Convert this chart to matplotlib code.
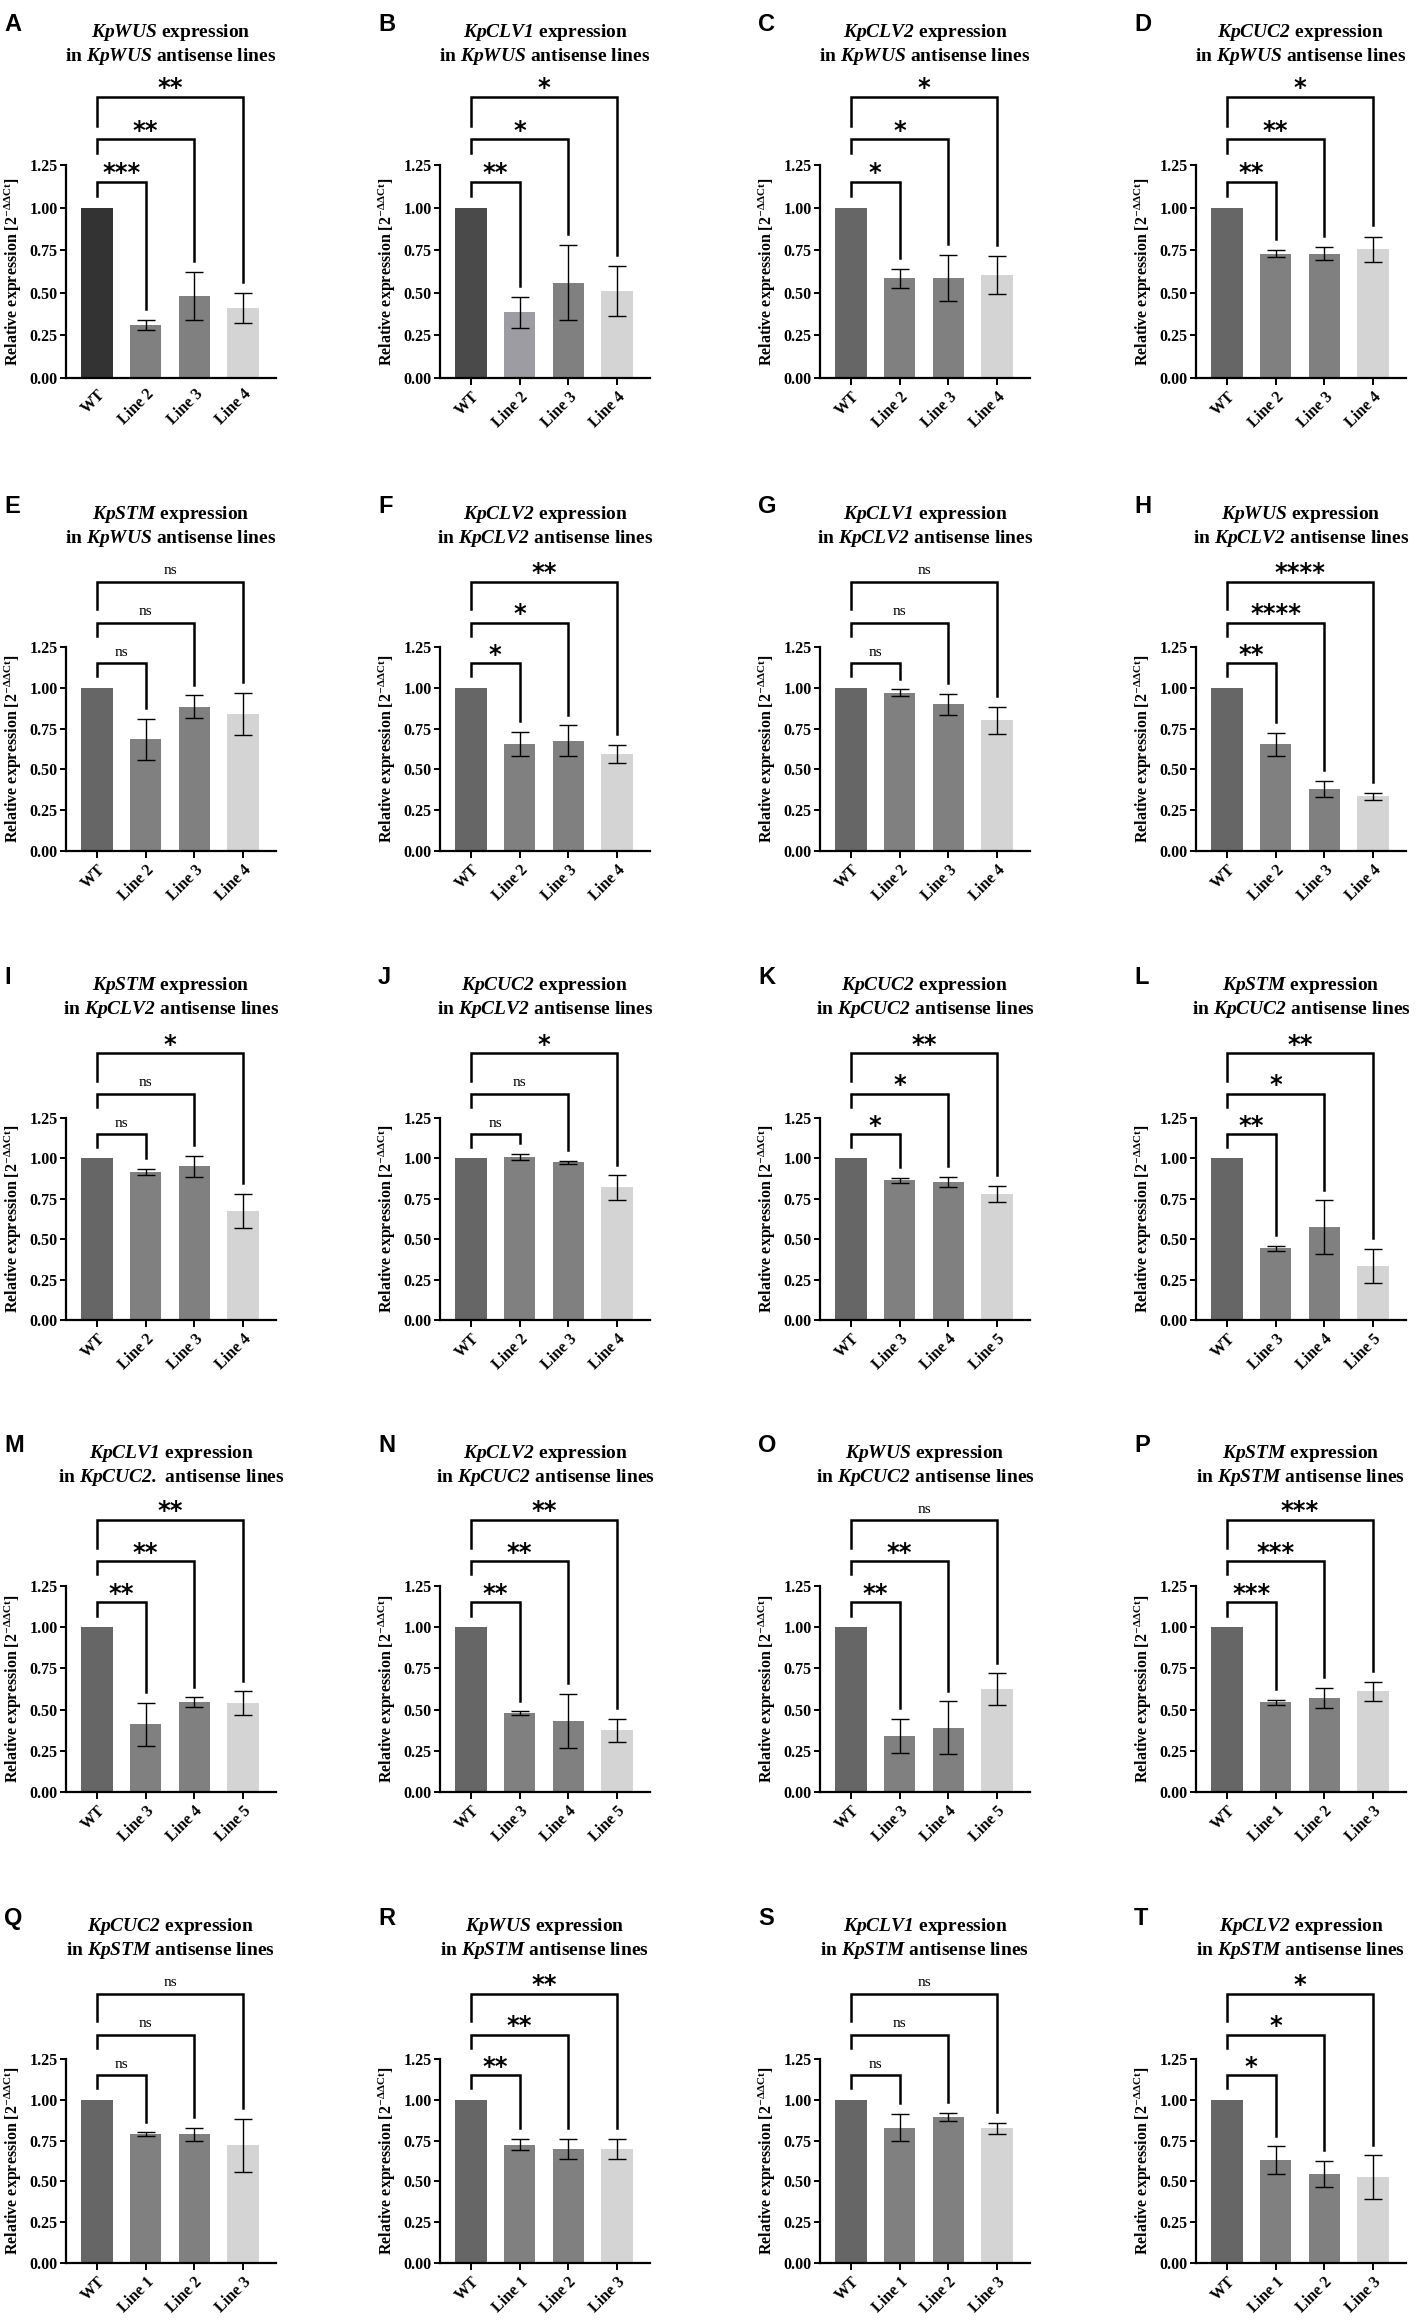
import matplotlib
matplotlib.use("Agg")
import matplotlib.pyplot as plt
from matplotlib.transforms import offset_copy
import numpy as np

plt.rcParams['font.family'] = ['Liberation Serif', 'DejaVu Serif']
plt.rcParams['font.weight'] = 'bold'
plt.rcParams['mathtext.fontset'] = 'custom'
# digits inside \mathit fall back to the "rm" font, so rm is bold italic too
plt.rcParams['mathtext.rm'] = 'Liberation Serif:italic:bold'
plt.rcParams['mathtext.bf'] = 'Liberation Serif:bold'
plt.rcParams['mathtext.it'] = 'Liberation Serif:italic:bold'

# panel data (WT first, then the three antisense lines)
letters = list("ABCDEFGHIJKLMNOPQRST")
genes = ["KpWUS", "KpCLV1", "KpCLV2", "KpCUC2",
         "KpSTM", "KpCLV2", "KpCLV1", "KpWUS",
         "KpSTM", "KpCUC2", "KpCUC2", "KpSTM",
         "KpCLV1", "KpCLV2", "KpWUS", "KpSTM",
         "KpCUC2", "KpWUS", "KpCLV1", "KpCLV2"]
backgrounds = ["KpWUS"] * 5 + ["KpCLV2"] * 5 + ["KpCUC2"] * 2 + \
              ["KpCUC2.", "KpCUC2", "KpCUC2"] + ["KpSTM"] * 5

labels_a = ["WT", "Line 2", "Line 3", "Line 4"]
labels_k = ["WT", "Line 3", "Line 4", "Line 5"]
labels_p = ["WT", "Line 1", "Line 2", "Line 3"]
xlabels = [labels_a] * 10 + [labels_k] * 5 + [labels_p] * 5

means = [
    [1.0, 0.31, 0.48, 0.41],
    [1.0, 0.385, 0.56, 0.51],
    [1.0, 0.585, 0.585, 0.605],
    [1.0, 0.73, 0.73, 0.755],
    [1.0, 0.685, 0.885, 0.84],
    [1.0, 0.655, 0.675, 0.595],
    [1.0, 0.97, 0.90, 0.80],
    [1.0, 0.655, 0.38, 0.335],
    [1.0, 0.915, 0.95, 0.675],
    [1.0, 1.01, 0.975, 0.82],
    [1.0, 0.865, 0.855, 0.78],
    [1.0, 0.445, 0.575, 0.335],
    [1.0, 0.41, 0.545, 0.54],
    [1.0, 0.48, 0.43, 0.375],
    [1.0, 0.34, 0.39, 0.625],
    [1.0, 0.545, 0.57, 0.61],
    [1.0, 0.79, 0.79, 0.72],
    [1.0, 0.725, 0.70, 0.70],
    [1.0, 0.83, 0.895, 0.825],
    [1.0, 0.63, 0.545, 0.525],
]
errors = [
    [0, 0.03, 0.14, 0.09],
    [0, 0.09, 0.22, 0.145],
    [0, 0.055, 0.135, 0.11],
    [0, 0.02, 0.04, 0.075],
    [0, 0.125, 0.07, 0.13],
    [0, 0.075, 0.095, 0.055],
    [0, 0.02, 0.065, 0.085],
    [0, 0.07, 0.05, 0.02],
    [0, 0.02, 0.065, 0.105],
    [0, 0.02, 0.01, 0.075],
    [0, 0.015, 0.03, 0.05],
    [0, 0.015, 0.165, 0.105],
    [0, 0.13, 0.03, 0.07],
    [0, 0.01, 0.165, 0.07],
    [0, 0.105, 0.16, 0.095],
    [0, 0.015, 0.06, 0.06],
    [0, 0.01, 0.04, 0.165],
    [0, 0.035, 0.06, 0.06],
    [0, 0.085, 0.025, 0.035],
    [0, 0.085, 0.08, 0.135],
]
signif = [
    ["***", "**", "**"], ["**", "*", "*"], ["*", "*", "*"], ["**", "**", "*"],
    ["ns", "ns", "ns"], ["*", "*", "**"], ["ns", "ns", "ns"], ["**", "****", "****"],
    ["ns", "ns", "*"], ["ns", "ns", "*"], ["*", "*", "**"], ["**", "*", "**"],
    ["**", "**", "**"], ["**", "**", "**"], ["**", "**", "ns"], ["***", "***", "***"],
    ["ns", "ns", "ns"], ["**", "**", "**"], ["ns", "ns", "ns"], ["*", "*", "*"],
]

# styles
wt_colors = ["#333333", "#4a4a4a"] + ["#666666"] * 18
line_colors = ["#808080", "#808080", "#d4d4d4"]
bracket_y = [1.15, 1.40, 1.65]
leg_bottom = [1.07, 1.32, 1.48]

W, H = 1418, 2320
col_left = [66, 440, 820, 1196]
row_top = [165, 647, 1118, 1586, 2059]
row_h = [213, 204, 202, 206, 204]
ax_w = 210

fig = plt.figure(figsize=(W / 100, H / 100), dpi=100)

for k in range(20):
    r, c = divmod(k, 4)
    rect = [col_left[c] / W, (H - row_top[r] - row_h[r]) / H, ax_w / W, row_h[r] / H]
    ax = fig.add_axes(rect)
    x = np.arange(4)
    m = np.array(means[k])
    e = np.array(errors[k])
    colors = [wt_colors[k]] + list(line_colors)
    if k == 1:
        colors[1] = "#9d9ca3"
    ax.bar(x, m, width=0.65, color=colors)
    ax.errorbar(x[1:], m[1:], yerr=e[1:], fmt='none', ecolor='black',
                elinewidth=1.0, capsize=6.8, capthick=1.0)

    # significance brackets
    for i in range(3):
        x2 = i + 1
        top = m[x2] + e[x2] + 0.065
        ax.plot([0, 0, x2, x2], [leg_bottom[i], bracket_y[i], bracket_y[i], top],
                color='black', lw=1.8, clip_on=False, solid_joinstyle='miter')
        s = signif[k][i]
        if s == "ns":
            ax.text(x2 / 2, bracket_y[i] + 0.045, s, ha='center', va='baseline',
                    fontsize=11, fontweight='normal', clip_on=False)
        else:
            ax.text(x2 / 2, bracket_y[i] + 0.01, s, ha='center', va='baseline',
                    fontsize=17.5, fontweight='bold', family='DejaVu Sans', clip_on=False)

    ax.set_xlim(-0.63, 3.67)
    ax.set_ylim(0, 1.25)
    ax.set_yticks([0, 0.25, 0.5, 0.75, 1.0, 1.25])
    ax.set_yticklabels(["%.2f" % v for v in [0, 0.25, 0.5, 0.75, 1.0, 1.25]], fontsize=11.5)
    ax.set_xticks(x)
    ax.set_xticklabels(xlabels[k], rotation=45, ha='right', rotation_mode='anchor',
                       fontsize=11.5)
    for sp in ['top', 'right']:
        ax.spines[sp].set_visible(False)
    for sp in ['left', 'bottom']:
        ax.spines[sp].set_linewidth(1.6)
    ax.tick_params(axis='y', width=1.4, length=4, pad=2)
    ax.tick_params(axis='x', width=1.4, length=5, pad=3)
    if k == 0:
        ax.tick_params(axis='x', length=0, pad=6)
    ax.set_ylabel(r"Relative expression [$\mathbf{2}^{-\mathbf{\Delta\Delta Ct}}$]",
                  fontsize=11.5, fontweight='bold', labelpad=4)

    # titles and panel letters
    t1 = offset_copy(ax.transAxes, fig=fig, x=0, y=128, units='dots')
    t2 = offset_copy(ax.transAxes, fig=fig, x=0, y=104, units='dots')
    ax.text(0.5, 1, r"$\mathit{%s}$ expression" % genes[k], transform=t1,
            ha='center', va='baseline', fontsize=14, fontweight='bold')
    ax.text(0.5, 1, r"in $\mathit{%s}$ antisense lines" % backgrounds[k], transform=t2,
            ha='center', va='baseline', fontsize=14, fontweight='bold')
    tl = offset_copy(ax.transAxes, fig=fig, x=-62, y=152, units='dots')
    ax.text(0, 1, letters[k], transform=tl, ha='left', va='top', fontsize=17,
            fontweight='bold', family='Liberation Sans')

fig.savefig("out.png", dpi=100)
